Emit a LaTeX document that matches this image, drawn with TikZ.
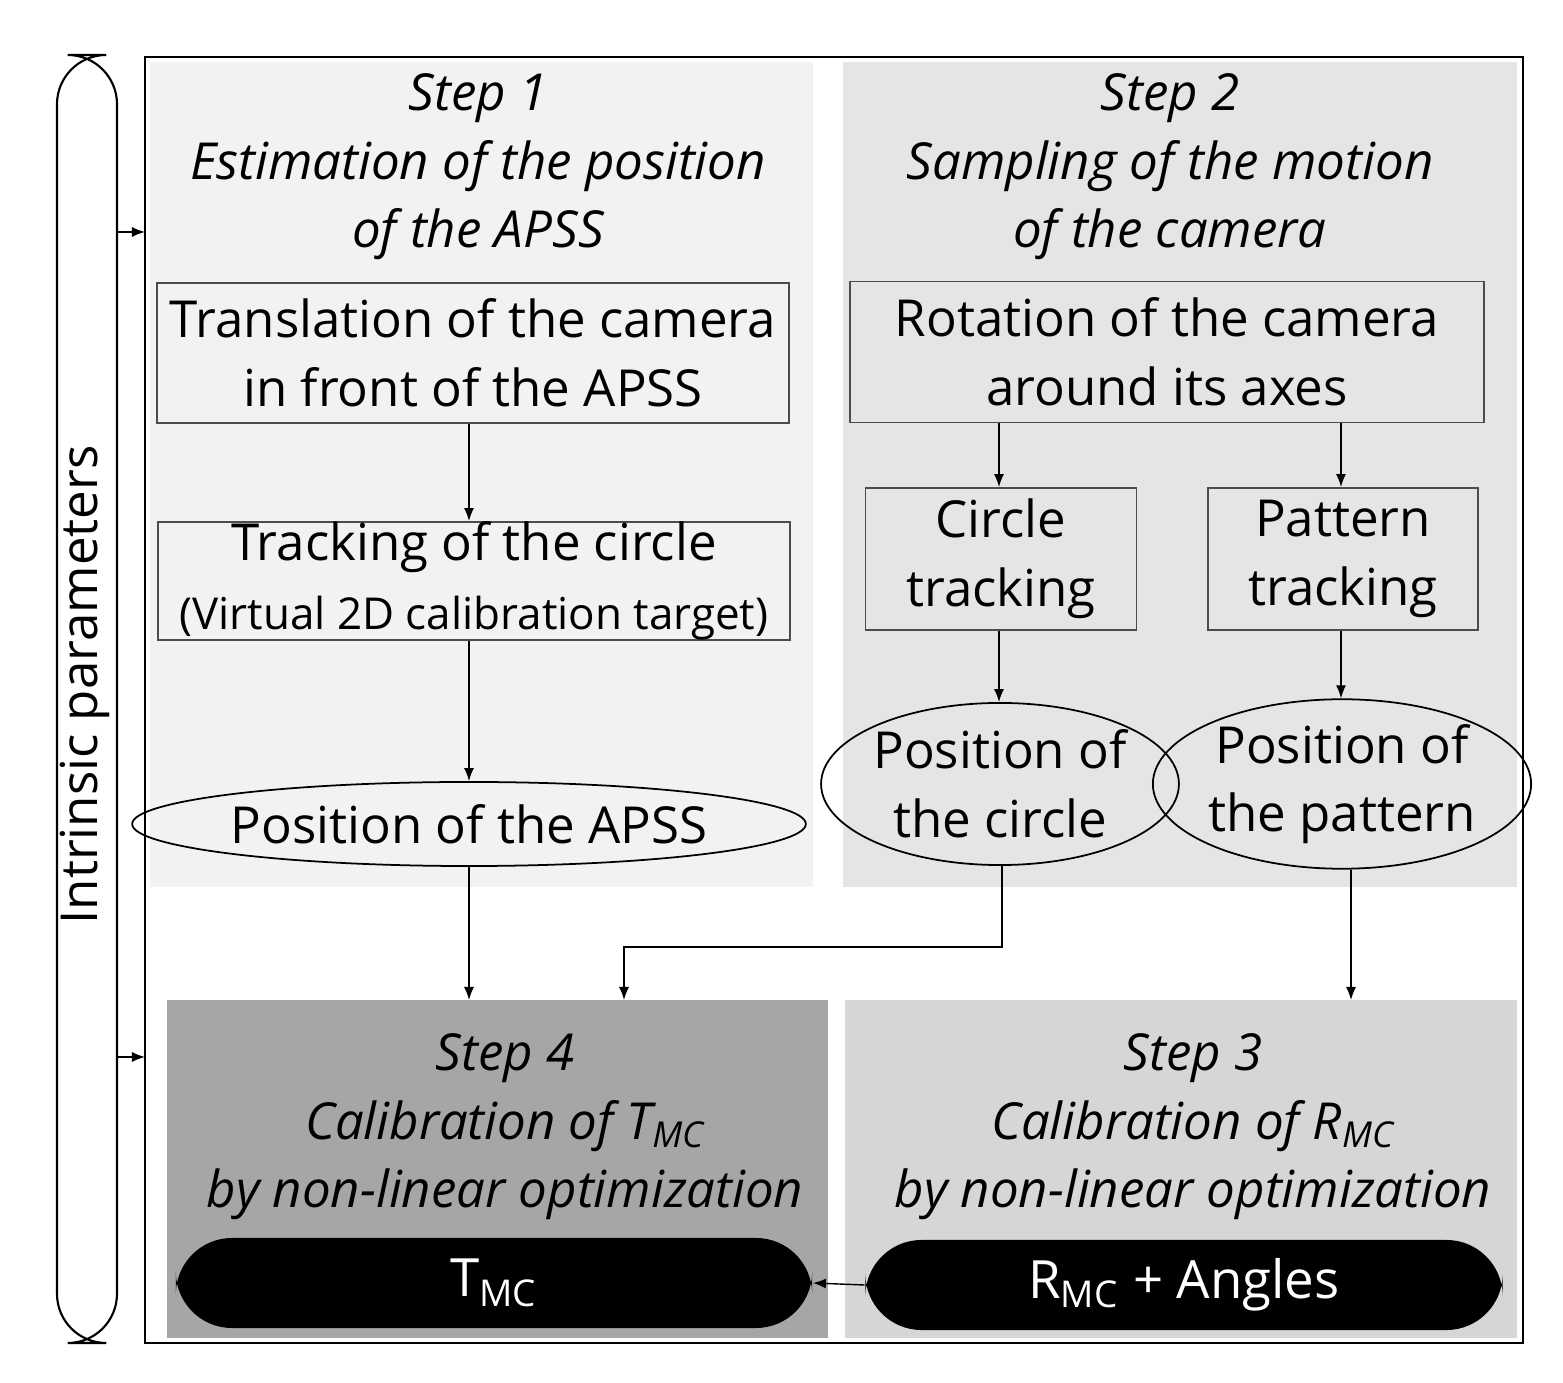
\documentclass[tikz,border=0pt]{standalone}
\usepackage{fontspec}
\setmainfont{Open Sans}
\usetikzlibrary{arrows.meta,calc,shapes.geometric}
\begin{document}
\begin{tikzpicture}[x=0.01cm,y=-0.01cm,
	box/.style={draw=black!70,line width=0.5pt,align=center,inner sep=0pt,font=\fontsize{14.5}{19.5}\selectfont},
	oval/.style={draw=black,ellipse,line width=0.5pt,align=center,inner sep=0pt,font=\fontsize{14.5}{19.5}\selectfont},
	pill/.style={fill=black,rounded corners=16pt,text=white,inner sep=0pt,font=\fontsize{15}{18}\selectfont},
	title/.style={align=center,font=\itshape\fontsize{14.5}{19.5}\selectfont},
	arr/.style={-{Latex[length=1.3mm,width=1mm]},line width=0.4pt}]
		\useasboundingbox (0,0) rectangle (1563,1383);
		% panels
		\fill[black!5] (150,62) rectangle (813,887);
		\fill[black!10] (843,62) rectangle (1517,887);
		\fill[black!35] (167,1000) rectangle (828,1338);
		\fill[black!16] (845,1000) rectangle (1517,1338);
		\draw[line width=0.8pt] (145,57) rectangle (1523,1343);
		\draw[line width=0.6pt,rounded corners=14pt] (57,55) rectangle (117,1343);
		\node[rotate=90,font=\fontsize{14.5}{18}\selectfont] (intr) at (85,685) {Intrinsic parameters};
		\coordinate (ia) at (117,232); \coordinate (ib) at (117,1057);
		\coordinate (fa) at (145,232); \coordinate (fb) at (145,1057);
		\draw[arr] (ia)--(fa);
		\draw[arr] (ib)--(fb);
		% step 1
		\node[title] (s1) at (478,167) {Step 1\\Estimation of the position\\of the APSS};
		\node[box,minimum width=6.32cm,minimum height=1.4cm] (trans) at (473,353) {Translation of the camera\\in front of the APSS};
		\node[box,minimum width=6.32cm,minimum height=1.18cm] (track) at (474,581) {Tracking of the circle\\{\fontsize{12.5}{17}\selectfont(Virtual 2D calibration target)}};
		\node[oval,minimum width=5.65cm,minimum height=0.84cm] (apss) at (469,824) {Position of the APSS};
		% step 2
		\node[title] (s2) at (1170,167) {Step 2\\Sampling of the motion\\of the camera};
		\node[box,minimum width=6.33cm,minimum height=1.41cm] (rot) at (1167,352) {Rotation of the camera\\around its axes};
		\node[box,minimum width=2.71cm,minimum height=1.42cm] (ctrack) at (1001,559) {Circle\\tracking};
		\node[box,minimum width=2.7cm,minimum height=1.42cm] (ptrack) at (1343,559) {Pattern\\tracking};
		\node[oval,minimum width=3.06cm,minimum height=1.62cm] (cpos) at (1000,784) {Position of\\the circle};
		\node[oval,minimum width=3.21cm,minimum height=1.62cm] (ppos) at (1342,784) {Position of\\the pattern};
		% steps 4 and 3
		\node[title] (s4) at (505,1127) {Step 4\\Calibration of T\textsubscript{MC}\\by non-linear optimization};
		\node[title] (s3) at (1193,1127) {Step 3\\Calibration of R\textsubscript{MC}\\by non-linear optimization};
		\node[pill,minimum width=6.36cm,minimum height=0.9cm] (tmc) at (494,1283) {T\textsubscript{MC}};
		\node[pill,minimum width=6.37cm,minimum height=0.9cm] (rmc) at (1184,1285) {R\textsubscript{MC} + Angles};
		% connectors
		\coordinate (top4a) at (469,1000); \coordinate (top4b) at (624,1000); \coordinate (top3) at (1351,1000);
		\draw[arr] (trans.south-|469,0)--(track.north-|469,0);
		\draw[arr] (track.south-|469,0)--(apss.north-|469,0);
		\draw[arr] (apss.south-|469,0)--(top4a);
		\draw[arr] (cpos.south-|1002,0)--(1002,947)--(624,947)--(top4b);
		\draw[arr] (ppos.south-|1351,0)--(top3);
		\draw[arr] (rot.south-|999,0)--(ctrack.north-|999,0);
		\draw[arr] (rot.south-|1341,0)--(ptrack.north-|1341,0);
		\draw[arr] (ctrack.south-|999,0)--(cpos.north-|999,0);
		\draw[arr] (ptrack.south-|1341,0)--(ppos.north-|1341,0);
		\draw[arr] (rmc.west)--(tmc.east);
	\end{tikzpicture}
\end{document}
